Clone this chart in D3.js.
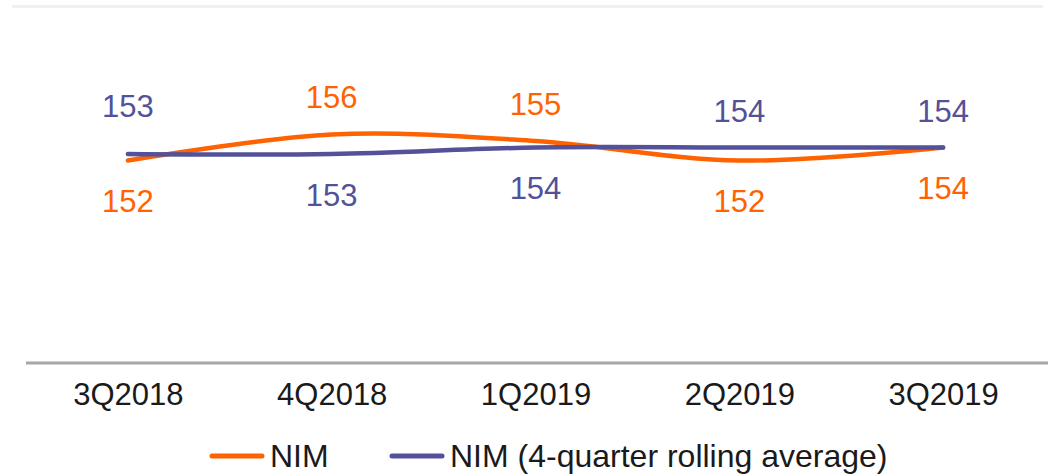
<!DOCTYPE html>
<html><head><meta charset="utf-8">
<script src="https://cdn.jsdelivr.net/npm/d3@7"></script>
<style>html,body{margin:0;padding:0;background:#fff;}svg{display:block;}</style>
</head><body>
<script>
const categories = ["3Q2018","4Q2018","1Q2019","2Q2019","3Q2019"];
const nimValues = [152,156,155,152,154];
const avgValues = [153,153,154,154,154];
const seriesNames = ["NIM","NIM (4-quarter rolling average)"];
// label placement: true = above line
const nimAbove = [false,true,true,false,false];
const avgAbove = [true,false,false,true,true];

const W=1048,H=475;
const ORANGE="#FF6200", PURPLE="#525199", TEXT="#1a1a1a";
const FONT="'Liberation Sans', Arial, sans-serif";
const svg=d3.select("body").append("svg").attr("width",W).attr("height",H);

// top border
svg.append("rect").attr("x",12).attr("y",5).attr("width",1031).attr("height",3).attr("fill","#f0f0f0");

const x=d3.scalePoint().domain(categories).range([26,1045]).padding(0.5);
const y=d3.scaleLinear().domain([121,170]).range([362,43.5]);

// axis line
svg.append("line").attr("x1",26).attr("x2",1048).attr("y1",363).attr("y2",363)
  .attr("stroke","#a6a6a6").attr("stroke-width",3);

// category labels
const ax=svg.append("g").attr("transform","translate(0,363)")
  .call(d3.axisBottom(x).tickSize(0).tickPadding(0));
ax.select(".domain").remove();
ax.selectAll("text").attr("y",42).attr("dy",0).attr("font-family",FONT)
  .attr("font-size",31).attr("fill",TEXT);

const line=d3.line().x((d,i)=>x(categories[i])).y(d=>y(d)).curve(d3.curveCardinal.tension(0));

function drawSeries(vals,color,above,extra){
  svg.append("path").datum(vals).attr("d",line).attr("fill","none")
    .attr("stroke",color).attr("stroke-width",4.5).attr("stroke-linecap","round");
  svg.append("g").selectAll("text").data(vals).join("text")
    .attr("x",(d,i)=>x(categories[i]))
    .attr("y",(d,i)=>above[i]? y(d)-26-extra[i] : y(d)+51.5)
    .attr("text-anchor","middle").attr("font-family",FONT).attr("font-size",31)
    .attr("fill",color).text(d=>d);
}
drawSeries(nimValues,ORANGE,nimAbove,[0,1,0,0,0]);
drawSeries(avgValues,PURPLE,avgAbove,[11,0,0,0,0]);

// legend
const legend=[{name:seriesNames[0],color:ORANGE,x:212},{name:seriesNames[1],color:PURPLE,x:392}];
const lg=svg.append("g");
legend.forEach(l=>{
  lg.append("line").attr("x1",l.x).attr("x2",l.x+50).attr("y1",456).attr("y2",456)
    .attr("stroke",l.color).attr("stroke-width",5).attr("stroke-linecap","round");
  lg.append("text").attr("x",l.x+58).attr("y",467).attr("font-family",FONT)
    .attr("font-size",32).attr("fill",TEXT).text(l.name);
});
</script>
</body></html>
